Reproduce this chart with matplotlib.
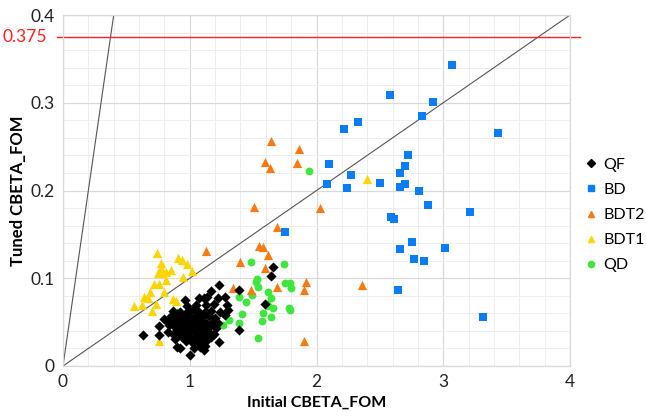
import matplotlib
matplotlib.use("Agg")
import matplotlib.pyplot as plt
from matplotlib.lines import Line2D

plt.rcParams['font.family'] = ['Lato', 'DejaVu Sans']

# QF (black diamonds)
qf_x = [1.23,
        1.17,
        0.96, 1.07, 1.11, 1.14, 1.22, 1.28,
        0.98, 1.05, 1.13, 1.19, 1.29,
        0.92, 1.00, 1.04, 1.12, 1.17, 1.24,
        0.80, 0.85, 0.89, 0.95, 0.99, 1.02, 1.06, 1.10, 1.15, 1.20, 1.28,
        0.83, 0.87, 0.91, 0.95, 0.98, 1.02, 1.05, 1.09, 1.13, 1.18, 1.22,
        0.76, 0.84, 0.88, 0.93, 0.96, 1.00, 1.04, 1.08, 1.12, 1.16, 1.21,
        0.83, 0.87, 0.91, 0.94, 0.99, 1.03, 1.07, 1.11, 1.15, 1.19,
        0.63, 0.76, 0.94, 1.00, 1.05, 1.09, 1.13, 1.17,
        0.88, 0.97, 1.02, 1.06, 1.10, 1.14, 1.23,
        0.90, 0.92, 1.03, 1.08, 1.12,
        1.00, 1.11,
        0.90, 0.97, 1.01, 1.06, 1.10, 0.93, 1.00, 1.04, 0.87, 1.08, 1.14, 0.96, 1.11,
        1.30, 1.39, 1.39, 1.59, 1.64, 1.66]
qf_y = [0.092,
        0.085,
        0.075, 0.078, 0.077, 0.079, 0.078, 0.079,
        0.068, 0.070, 0.070, 0.071, 0.070,
        0.062, 0.062, 0.064, 0.062, 0.063, 0.062,
        0.054, 0.057, 0.055, 0.057, 0.056, 0.054, 0.058, 0.056, 0.057, 0.055, 0.058,
        0.050, 0.049, 0.051, 0.048, 0.051, 0.050, 0.048, 0.051, 0.049, 0.050, 0.049,
        0.046, 0.047, 0.044, 0.045, 0.046, 0.044, 0.046, 0.044, 0.045, 0.046, 0.043,
        0.039, 0.037, 0.039, 0.040, 0.037, 0.039, 0.040, 0.038, 0.039, 0.037,
        0.035, 0.035, 0.033, 0.032, 0.033, 0.032, 0.032, 0.033,
        0.031, 0.029, 0.027, 0.029, 0.028, 0.030, 0.027,
        0.022, 0.020, 0.021, 0.022, 0.023,
        0.013, 0.018,
        0.059, 0.060, 0.043, 0.053, 0.047, 0.050, 0.052, 0.066, 0.063, 0.060, 0.060, 0.041, 0.042,
        0.064, 0.087, 0.041, 0.071, 0.103, 0.113]

# BD (blue squares)
bd_x = [3.07, 2.58, 2.92, 2.83, 3.43, 2.33, 2.22, 2.72, 2.70, 2.66, 2.10, 2.27, 2.50, 2.66, 2.70,
        2.24, 2.08, 2.81, 2.88, 3.21, 2.59, 2.61, 2.75, 2.66, 3.01, 2.77, 2.85, 2.64, 3.31, 1.75]
bd_y = [0.343, 0.309, 0.301, 0.285, 0.265, 0.278, 0.270, 0.241, 0.228, 0.220, 0.230, 0.218, 0.209, 0.204, 0.207,
        0.203, 0.207, 0.199, 0.184, 0.175, 0.170, 0.168, 0.141, 0.133, 0.135, 0.122, 0.120, 0.087, 0.056, 0.153]

# BDT2 (orange triangles)
bdt2_x = [1.64, 1.86, 1.59, 1.63, 1.85, 1.51, 2.03, 1.69, 1.13, 1.55, 1.58, 1.62, 1.40, 1.59, 1.34,
          1.48, 1.69, 1.92, 1.90, 1.90, 2.36]
bdt2_y = [0.256, 0.247, 0.232, 0.226, 0.231, 0.181, 0.180, 0.158, 0.131, 0.137, 0.136, 0.127, 0.118, 0.112, 0.089,
          0.087, 0.090, 0.096, 0.087, 0.029, 0.092]

# BDT1 (yellow triangles)
bdt1_x = [0.74, 0.91, 0.94, 0.77, 0.98, 0.77, 0.85, 0.81, 0.75, 0.78, 1.02, 0.81, 0.72, 0.76, 0.95,
          0.69, 0.80, 0.64, 0.67, 0.73, 0.87, 0.89, 0.56, 0.62, 0.70, 0.76, 2.40]
bdt1_y = [0.129, 0.123, 0.121, 0.117, 0.116, 0.112, 0.109, 0.107, 0.106, 0.106, 0.108, 0.098, 0.093, 0.093, 0.101,
          0.084, 0.084, 0.079, 0.078, 0.071, 0.076, 0.074, 0.068, 0.070, 0.063, 0.029, 0.213]

# QD (green circles)
qd_x = [0.91, 1.26, 1.31, 1.39, 1.39, 1.41, 1.44, 1.48, 1.49, 1.52, 1.53, 1.54, 1.54, 1.57, 1.58,
        1.61, 1.62, 1.64, 1.64, 1.62, 1.66, 1.74, 1.75, 1.78, 1.79, 1.80, 1.79, 1.94]
qd_y = [0.061, 0.047, 0.052, 0.079, 0.049, 0.059, 0.073, 0.118, 0.081, 0.096, 0.099, 0.090, 0.032, 0.051, 0.060,
        0.071, 0.084, 0.077, 0.056, 0.068, 0.066, 0.116, 0.095, 0.066, 0.095, 0.089, 0.064, 0.222]

red_level = 0.375

blue = '#0a7cf5'
orange = '#f97a10'
yellow = '#ffd400'
green = '#3ee63e'

fig = plt.figure(figsize=(6.46, 4.16), dpi=100)
ax = fig.add_axes([63 / 646, 1 - 366 / 416, 507 / 646, 351 / 416])

ax.set_xlim(0, 4)
ax.set_ylim(0, 0.4)
ax.set_xticks([0, 1, 2, 3, 4])
ax.set_yticks([0, 0.1, 0.2, 0.3, 0.4])
ax.set_yticklabels(['0', '0.1', '0.2', '0.3', '0.4'])
ax.set_xticks([i * 0.2 for i in range(21)], minor=True)
ax.set_yticks([i * 0.02 for i in range(21)], minor=True)
ax.grid(True, which='major', color='#d9d9d9', linewidth=0.9)
ax.grid(True, which='minor', color='#eeeeee', linewidth=0.7)
ax.set_axisbelow(True)
for s in ax.spines.values():
    s.set_color('#d9d9d9')
    s.set_linewidth(0.9)
ax.tick_params(which='both', length=0, labelsize=12.5, pad=6, colors='#222222')

# reference lines
ax.plot([0, 4], [0, 0.4], color='#555555', linewidth=0.8)
ax.plot([0, 0.4], [0, 0.4], color='#555555', linewidth=0.8)
ax.axhline(red_level, xmin=-0.012, xmax=1.02, color='#ff2222', linewidth=1.0, clip_on=False)
ax.text(-0.031, red_level, '0.375', color='#ff2222', fontsize=12.5, ha='right', va='center',
        transform=ax.get_yaxis_transform())

ax.scatter(qd_x, qd_y, marker='o', s=32, color=green, zorder=3, linewidths=0)
ax.scatter(bdt1_x, bdt1_y, marker='^', s=44, color=yellow, zorder=3, linewidths=0)
ax.scatter(bdt2_x, bdt2_y, marker='^', s=44, color=orange, zorder=3, linewidths=0)
ax.scatter(bd_x, bd_y, marker='s', s=28, color=blue, zorder=3, linewidths=0)
ax.scatter(qf_x, qf_y, marker='D', s=27, color='black', zorder=4, linewidths=0)

ax.set_xlabel('Initial CBETA_FOM', fontsize=11.5, fontweight='bold', labelpad=4)
ax.set_ylabel('Tuned CBETA_FOM', fontsize=12, fontweight='bold', labelpad=3)

handles = [
    Line2D([], [], marker='D', color='black', linestyle='none', markersize=4),
    Line2D([], [], marker='s', color=blue, linestyle='none', markersize=4.5),
    Line2D([], [], marker='^', color=orange, linestyle='none', markersize=5),
    Line2D([], [], marker='^', color=yellow, linestyle='none', markersize=5),
    Line2D([], [], marker='o', color=green, linestyle='none', markersize=4.5),
]
fig.legend(handles, ['QF', 'BD', 'BDT2', 'BDT1', 'QD'], loc='center left',
           bbox_to_anchor=(0.895, 1 - 215 / 416), frameon=False, fontsize=11.5,
           labelspacing=0.68, handlelength=0.8, handletextpad=0.4, borderaxespad=0)

fig.savefig('out.png', dpi=100)
